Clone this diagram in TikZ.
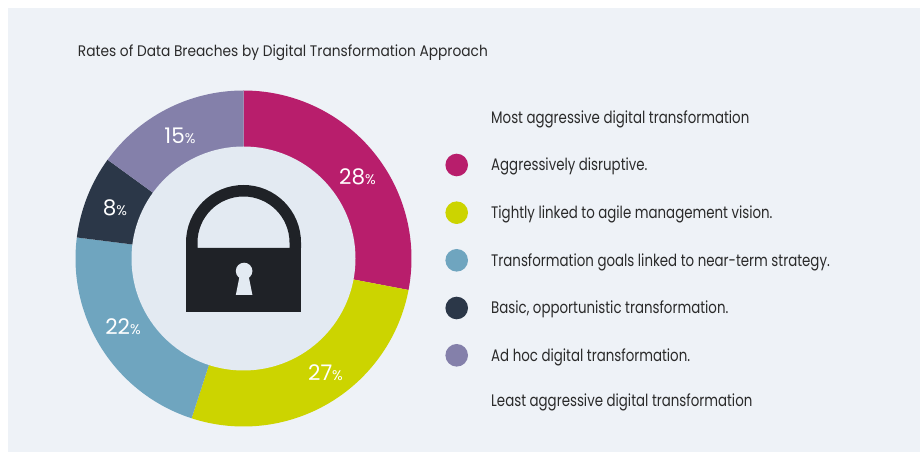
\documentclass[tikz,border=0pt]{standalone}
\usepackage{fontspec}
\setmainfont{Poppins}[FakeStretch=0.8]
\newfontfamily\titlefont{Poppins}[FakeStretch=0.9]
\newfontfamily\pctfont{Poppins}
\definecolor{panel}{HTML}{EEF2F7}
\definecolor{innerc}{HTML}{E3EAF2}
\definecolor{cmag}{HTML}{B81E6C}
\definecolor{cyel}{HTML}{CCD400}
\definecolor{cblu}{HTML}{6FA5BF}
\definecolor{cdrk}{HTML}{2B3748}
\definecolor{cpur}{HTML}{8480AA}
\definecolor{clock}{HTML}{1F2227}
\definecolor{ctext}{HTML}{2A2A2A}
\tikzset{
  legtext/.style={anchor=base west, inner sep=0pt, text=ctext, font=\fontsize{16.7}{20}\selectfont},
  legdot/.style={circle, minimum size=22.6pt, inner sep=0pt},
  pct/.style={text=white, inner sep=0pt, font=\pctfont\fontsize{21.5}{25}\selectfont},
}
\newcommand{\pc}[1]{#1{\fontsize{14}{16}\selectfont\%}}
\begin{document}
\begin{tikzpicture}[x=1pt,y=1pt]
\useasboundingbox (0,0) rectangle (920,452);
\fill[white] (0,0) rectangle (920,452);
\fill[panel] (8,0) rectangle (920,444);
\node[anchor=base west, inner sep=0pt, text=ctext, font=\titlefont\fontsize{15.3}{18}\selectfont] (title) at (77.7,395.3) {Rates of Data Breaches by Digital Transformation Approach};
% donut
\coordinate (c) at (243.5,193.5);
\begin{scope}[shift={(c)}]
\fill[cmag] (0,0) -- (90:168) arc[start angle=90, end angle=-10.8, radius=168] -- cycle;
\fill[cyel] (0,0) -- (-10.8:168) arc[start angle=-10.8, end angle=-108, radius=168] -- cycle;
\fill[cblu] (0,0) -- (-108:168) arc[start angle=-108, end angle=-187.2, radius=168] -- cycle;
\fill[cdrk] (0,0) -- (-187.2:168) arc[start angle=-187.2, end angle=-216, radius=168] -- cycle;
\fill[cpur] (0,0) -- (-216:168) arc[start angle=-216, end angle=-270, radius=168] -- cycle;
\fill[innerc] (0,0) circle[radius=112];
% lock
\fill[clock, even odd rule] (-57.5,10.5) -- (-57.5,16) arc[start angle=180, end angle=0, radius=57.5] -- (57.5,10.5) -- cycle
  (-46,10.5) -- (-46,16) arc[start angle=180, end angle=0, radius=46] -- (46,10.5) -- cycle;
\fill[clock] (-57.5,-53.5) rectangle (57.5,10.5);
\fill[innerc] (0.6,-12.5) circle[radius=8.3];
\fill[innerc] (-3.6,-16) -- (4.8,-16) -- (8.9,-36.5) -- (-7.7,-36.5) -- cycle;
\end{scope}
\node[pct] (p28) at (357.5,275.3) {\pc{28}};
\node[pct] (p27) at (325.5,79) {\pc{27}};
\node[pct] (p22) at (123,125.3) {\pc{22}};
\node[pct] (p8) at (115,244.3) {\pc{8}};
\node[pct] (p15) at (180,316) {\pc{15}};
% legend
\node[legtext] (most) at (491,328.7) {Most aggressive digital transformation};
\node[legdot, fill=cmag] (d1) at (456.7,287) {};
\node[legtext] (l1) at (491,281) {Aggressively disruptive.};
\node[legdot, fill=cyel] (d2) at (456.7,239.3) {};
\node[legtext] (l2) at (491,233.3) {Tightly linked to agile management vision.};
\node[legdot, fill=cblu] (d3) at (456.7,191.7) {};
\node[legtext] (l3) at (491,185.7) {Transformation goals linked to near-term strategy.};
\node[legdot, fill=cdrk] (d4) at (456.7,144) {};
\node[legtext] (l4) at (491,138) {Basic, opportunistic transformation.};
\node[legdot, fill=cpur] (d5) at (456.7,96.7) {};
\node[legtext] (l5) at (491,90.7) {Ad hoc digital transformation.};
\node[legtext] (least) at (491,45.3) {Least aggressive digital transformation};
\end{tikzpicture}
\end{document}
